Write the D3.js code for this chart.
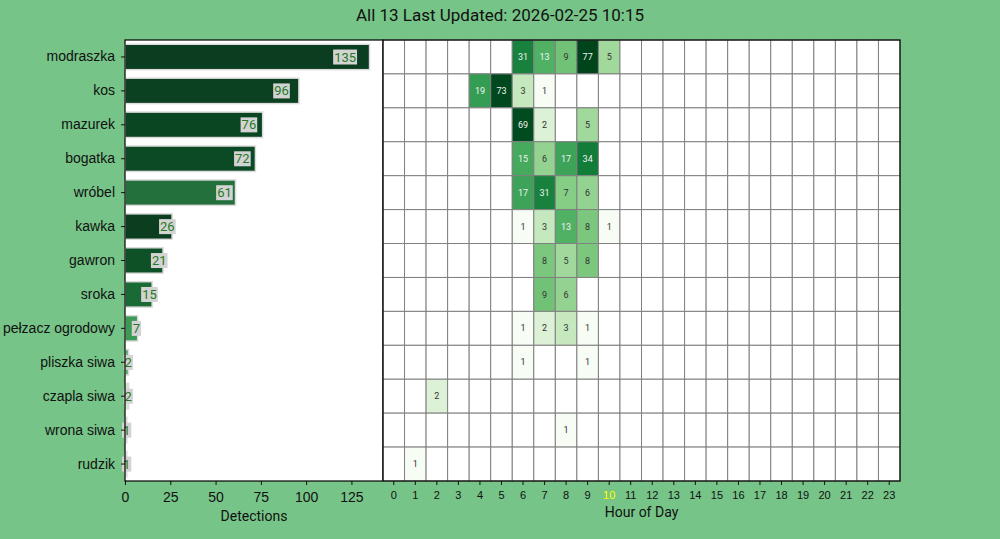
<!DOCTYPE html>
<html><head><meta charset="utf-8">
<script src="https://cdn.jsdelivr.net/npm/d3@7"></script>
<style>
body{margin:0;background:#76c487;}
svg{display:block;font-family:Roboto,"DejaVu Sans",sans-serif;}
</style></head>
<body><svg id="c" width="1000" height="539"></svg>
<script>
const titleText = "All 13 Last Updated: 2026-02-25 10:15";
const species = ["modraszka","kos","mazurek","bogatka","wróbel","kawka","gawron","sroka","pełzacz ogrodowy","pliszka siwa","czapla siwa","wrona siwa","rudzik"];
const totals = [135,96,76,72,61,26,21,15,7,2,2,1,1];
const barColors = ["#0b3d20","#0b4021","#0b4622","#0c4a25","#23703c","#0a3e1f","#0e5127","#1a6a35","#3d9a55","#5fae6e","#cfe9c9","#e8f5e4","#e8f5e4"];
const hours = d3.range(24);
const currentHour = 10;
const xTicksLeft = [0,25,50,75,100,125];
// hourly detections per species: [hour, count]
const hourly = [
  [[6,31],[7,13],[8,9],[9,77],[10,5]],
  [[4,19],[5,73],[6,3],[7,1]],
  [[6,69],[7,2],[9,5]],
  [[6,15],[7,6],[8,17],[9,34]],
  [[6,17],[7,31],[8,7],[9,6]],
  [[6,1],[7,3],[8,13],[9,8],[10,1]],
  [[7,8],[8,5],[9,8]],
  [[7,9],[8,6]],
  [[6,1],[7,2],[8,3],[9,1]],
  [[6,1],[9,1]],
  [[2,2]],
  [[8,1]],
  [[1,1]]
];

const svg = d3.select("#c");
const pTop = 40, pBot = 481, lx0 = 125, lx1 = 383, rx0 = 383, rx1 = 900;

svg.append("text").attr("x",500).attr("y",21).attr("text-anchor","middle")
  .attr("font-size",17).attr("fill","#111").text(titleText);

// ---------- left bar chart ----------
const x = d3.scaleLinear().domain([0, d3.max(totals)*1.055]).range([lx0, lx1]);
const y = d3.scaleBand().domain(species).range([pTop, pBot]).paddingInner(0.25).paddingOuter(0.125);

svg.append("rect").attr("x",lx0).attr("y",pTop).attr("width",lx1-lx0).attr("height",pBot-pTop).attr("fill","#fff");

const gL = svg.append("g");
gL.selectAll("rect.bar").data(species).join("rect").attr("class","bar")
  .attr("x", x(0)).attr("y", d=>y(d))
  .attr("width", (d,i)=>x(totals[i])-x(0)).attr("height", y.bandwidth())
  .attr("fill", (d,i)=>barColors[i]).attr("stroke","#dcdcdc").attr("stroke-width",1.5);

const lab = gL.selectAll("g.lab").data(species).join("g").attr("class","lab");
lab.each(function(d,i){
  const g = d3.select(this);
  const cx = x(totals[i]*0.9), cy = y(d)+y.bandwidth()/2;
  const t = g.append("text").attr("x",cx).attr("y",cy).attr("dy","0.35em")
    .attr("text-anchor","middle").attr("font-size",13).attr("fill","#237a23").text(totals[i]);
  const bb = t.node().getBBox();
  g.insert("rect","text").attr("x",bb.x-1).attr("y",bb.y).attr("width",bb.width+2).attr("height",bb.height)
    .attr("fill","#d3d3d3");
});

const axL = svg.append("g").attr("transform",`translate(0,${pBot})`)
  .call(d3.axisBottom(x).tickValues(xTicksLeft).tickSize(4).tickSizeOuter(0));
axL.select(".domain").remove();
axL.selectAll("text").attr("font-size",14).attr("fill","#111").attr("dy","1em");
axL.selectAll("line").attr("stroke","#111");

const ayL = svg.append("g").attr("transform",`translate(${lx0},0)`)
  .call(d3.axisLeft(y).tickSize(4).tickSizeOuter(0).tickPadding(6));
ayL.select(".domain").remove();
ayL.selectAll("text").attr("font-size",14).attr("fill","#111");
ayL.selectAll("line").attr("stroke","#111");

svg.append("rect").attr("x",lx0).attr("y",pTop).attr("width",lx1-lx0).attr("height",pBot-pTop)
  .attr("fill","none").attr("stroke","#000").attr("stroke-width",1.2);

svg.append("text").attr("x",(lx0+lx1)/2).attr("y",521).attr("text-anchor","middle")
  .attr("font-size",14).attr("fill","#111").text("Detections");

// ---------- heatmap ----------
const hx = d3.scaleBand().domain(hours).range([rx0, rx1]);
const hy = d3.scaleBand().domain(species).range([pTop, pBot]);
const maxC = d3.max(hourly.flat(), d=>d[1]);
const color = d3.scaleSequentialLog(d3.interpolateGreens).domain([1, maxC]);

const cells = [];
species.forEach((s,i)=>{
  const m = new Map(hourly[i]);
  hours.forEach(h=>cells.push({s, h, v: m.get(h)||0}));
});

const gH = svg.append("g");
gH.selectAll("rect").data(cells).join("rect")
  .attr("x", d=>hx(d.h)).attr("y", d=>hy(d.s))
  .attr("width", hx.bandwidth()).attr("height", hy.bandwidth())
  .attr("fill", d=>d.v>0 ? color(d.v) : "#fff")
  .attr("stroke","#808080").attr("stroke-width",1);

gH.selectAll("text").data(cells.filter(d=>d.v>0)).join("text")
  .attr("x", d=>hx(d.h)+hx.bandwidth()/2).attr("y", d=>hy(d.s)+hy.bandwidth()/2)
  .attr("dy","0.35em").attr("text-anchor","middle").attr("font-size",9)
  .attr("fill", d=> Math.log(d.v)/Math.log(maxC) > 0.55 ? "#f2f2f2" : "#333")
  .text(d=>d.v);

svg.append("rect").attr("x",rx0).attr("y",pTop).attr("width",rx1-rx0).attr("height",pBot-pTop)
  .attr("fill","none").attr("stroke","#000").attr("stroke-width",1.2);

const axH = svg.append("g").attr("transform",`translate(0,${pBot})`)
  .call(d3.axisBottom(hx).tickSize(4).tickSizeOuter(0));
axH.select(".domain").remove();
axH.selectAll("line").attr("stroke","#111");
axH.selectAll("text").attr("font-size",11).attr("dy","1em")
  .attr("fill", d=> d===currentHour ? "#ffff00" : "#111");

svg.append("text").attr("x",(rx0+rx1)/2).attr("y",517).attr("text-anchor","middle")
  .attr("font-size",14).attr("fill","#111").text("Hour of Day");
</script></body></html>
